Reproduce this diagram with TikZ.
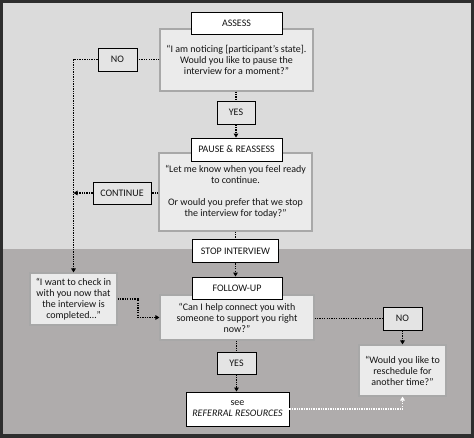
\documentclass[tikz,border=0pt]{standalone}
\usepackage{fontspec}
\setmainfont{Carlito}
\usetikzlibrary{arrows.meta}
\definecolor{frame}{HTML}{2E2E2E}
\definecolor{upbg}{HTML}{DBDBDB}
\definecolor{lowbg}{HTML}{AFACAC}
\definecolor{qgray}{HTML}{EBEBEB}
\definecolor{sgray}{HTML}{E4E4E4}
\definecolor{qedge}{HTML}{A8A8A8}
\definecolor{tdark}{HTML}{141414}
\begin{document}
\begin{tikzpicture}[x=1pt,y=-1pt,
  every node/.style={font=\fontsize{10}{11}\selectfont, inner sep=0pt, align=center, text=tdark},
  box/.style={draw=black, line width=0.9pt},
  wbox/.style={box, fill=white},
  gbox/.style={box, fill=sgray},
  qbox/.style={draw=qedge, line width=1.1pt, fill=qgray},
  dl/.style={draw=black, line width=1.4pt, dash pattern=on 1.3pt off 1.1pt},
  arr/.style={dl, -{Triangle[length=4pt,width=4.5pt]}},
  warr/.style={draw=white, line width=1.4pt, dash pattern=on 1.3pt off 1.1pt, -{Triangle[length=4pt,width=4.5pt]}}
]
\useasboundingbox (0,0) rectangle (474,438);
\fill[frame] (0,0) rectangle (474,438);
\fill[upbg] (3,3) rectangle (471,249);
\fill[lowbg] (3,249) rectangle (471,434);

% question boxes
\node[qbox, minimum width=153pt, minimum height=62pt] (q1) at (236.5,60)
  {“I am noticing [participant’s state].\\Would you like to pause the\\interview for a moment?”};
\node[qbox, minimum width=153pt, minimum height=78pt] (q2) at (235.5,192)
  {“Let me know when you feel ready\\to continue.\\[11pt]Or would you prefer that we stop\\the interview for today?”};
\node[qbox, minimum width=154pt, minimum height=45pt] (q3) at (237,317.5)
  {“Can I help connect you with\\someone to support you right\\now?”};
\node[qbox, minimum width=87pt, minimum height=52pt] (check) at (73.5,299)
  {“I want to check in\\with you now that\\the interview is\\completed…”};
\node[qbox, minimum width=87pt, minimum height=51pt] (resched) at (402.5,370.5)
  {“Would you like to\\reschedule for\\another time?”};

% header boxes
\node[wbox, minimum width=91pt, minimum height=22pt] (assess) at (236.5,23) {ASSESS};
\node[wbox, minimum width=91pt, minimum height=23pt] (pause) at (236.5,149.5) {PAUSE \& REASSESS};
\node[wbox, line width=1.8pt, minimum width=86pt, minimum height=23pt] (stop) at (235.5,251) {STOP INTERVIEW};
\node[wbox, minimum width=90pt, minimum height=22pt] (follow) at (237,288) {FOLLOW-UP};
\node[wbox, minimum width=103pt, minimum height=34pt] (see) at (237.5,409) {see\\\itshape REFERRAL RESOURCES};

% small answer boxes
\node[gbox, minimum width=39pt, minimum height=23pt] (no1) at (117.5,59.5) {NO};
\node[gbox, minimum width=38pt, minimum height=23pt] (yes1) at (236,112.5) {YES};
\node[gbox, minimum width=58pt, minimum height=22pt] (cont) at (122,193) {CONTINUE};
\node[gbox, minimum width=39pt, minimum height=23pt] (no2) at (402.5,318.5) {NO};
\node[gbox, minimum width=39pt, minimum height=22pt] (yes2) at (236.5,363) {YES};

\coordinate (lft) at (73.5,59.5);
\coordinate (lcont) at (73.5,193);
\coordinate (elb) at (138,299);
\coordinate (wc) at (402.5,409);

% connectors
\draw[dl] (q1.west |- no1) -- (no1.east);
\draw[arr] (no1.west) -- (lft) -- (check.north);
\draw[dl] (q1.south -| yes1) -- (yes1.north);
\draw[arr] (yes1.south) -- (pause.north -| yes1);
\draw[dl] (q2.west |- cont) -- (cont.east);
\draw[arr] (cont.west) -- (lcont);
\draw[dl] (q2.south -| stop) -- (stop.north);
\draw[arr] (stop.south) -- (follow.north -| stop);
\draw[arr] (check.east) -- (elb) |- (q3.west);
\draw[dl] (q3.east |- no2) -- (no2.west);
\draw[arr] (no2.south) -- (resched.north);
\draw[dl] (q3.south -| yes2) -- (yes2.north);
\draw[arr] (yes2.south) -- (see.north -| yes2);
\draw[warr] (see.east |- wc) -- (wc) -- (resched.south);
\end{tikzpicture}
\end{document}
